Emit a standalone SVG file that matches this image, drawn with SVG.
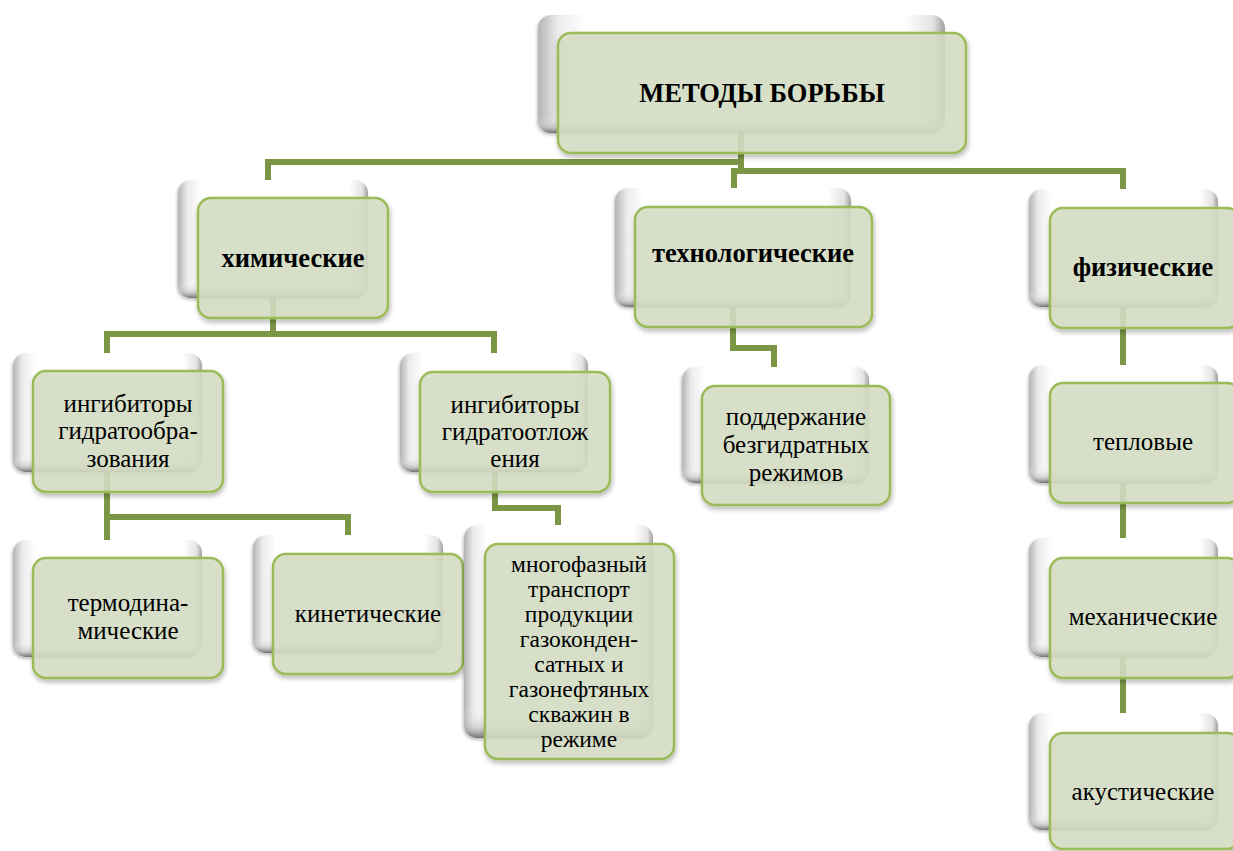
<svg xmlns="http://www.w3.org/2000/svg" width="1233" height="851" viewBox="0 0 1233 851">
<defs>
<linearGradient id="bh" x1="0" x2="1" y1="0" y2="0">
<stop offset="0" stop-color="#b4b4b4"/>
<stop offset="0.05" stop-color="#ececec"/>
<stop offset="0.12" stop-color="#ffffff"/>
<stop offset="0.9" stop-color="#ffffff"/>
<stop offset="0.97" stop-color="#e4e4e4"/>
<stop offset="1" stop-color="#a0a0a0"/>
</linearGradient>
<linearGradient id="bv" x1="0" x2="0" y1="0" y2="1">
<stop offset="0" stop-color="#ffffff" stop-opacity="0"/>
<stop offset="0.86" stop-color="#ffffff" stop-opacity="0"/>
<stop offset="0.95" stop-color="#b0b0b0" stop-opacity="0.45"/>
<stop offset="1" stop-color="#5a5a5a" stop-opacity="0.85"/>
</linearGradient>
<filter id="sh" x="-10%" y="-10%" width="125%" height="130%">
<feDropShadow dx="1" dy="3" stdDeviation="2.5" flood-color="#000" flood-opacity="0.3"/>
</filter>
<filter id="shb" x="-10%" y="-10%" width="125%" height="130%">
<feDropShadow dx="-1" dy="2" stdDeviation="1.5" flood-color="#000" flood-opacity="0.25"/>
</filter>
</defs>
<style>
.back{fill:url(#bh);filter:url(#shb)}
.bov{fill:url(#bv)}
.front{fill:#d6e0c6;fill-opacity:0.86;stroke:#9bbb59;stroke-width:2.5;filter:url(#sh)}
.conn{fill:none;stroke:#7b9745;stroke-width:6;stroke-linejoin:miter}
text{font-family:"Liberation Serif","Times New Roman",serif;fill:#000;text-anchor:middle}
.h{font-weight:bold;font-size:26.5px}
.t{font-size:25px}
.s{font-size:23.5px}
</style>
<rect width="1233" height="851" fill="#ffffff"/>
<g id="connectors">
<path class="conn" d="M741,133 V171"/>
<path class="conn" d="M741,162 H268 V183"/>
<path class="conn" d="M734,190 V171 H1123 V192"/>
<path class="conn" d="M273,298 V334 H107 V356"/>
<path class="conn" d="M273,334 H494 V356"/>
<path class="conn" d="M107,472 V542"/>
<path class="conn" d="M107,517 H348 V538"/>
<path class="conn" d="M495,472 V508 H558 V528"/>
<path class="conn" d="M733,307 V348 H774 V370"/>
<path class="conn" d="M1123,307 V368"/>
<path class="conn" d="M1123,483 V541"/>
<path class="conn" d="M1123,657 V716"/>
</g>
<g id="node-top">
<rect class="back" x="538" y="15" width="407" height="118" rx="13"/>
<rect class="bov" x="538" y="15" width="407" height="118" rx="13"/>
<rect class="front" x="558" y="33" width="408" height="120" rx="13"/>
<text class="h" x="762" y="102">МЕТОДЫ БОРЬБЫ</text>
</g>
<g id="node-chem">
<rect class="back" x="178" y="180" width="190" height="118" rx="13"/>
<rect class="bov" x="178" y="180" width="190" height="118" rx="13"/>
<rect class="front" x="198" y="198" width="190" height="120" rx="13"/>
<text class="h" x="293" y="267">химические</text>
</g>
<g id="node-tech">
<rect class="back" x="615" y="188" width="236" height="119" rx="13"/>
<rect class="bov" x="615" y="188" width="236" height="119" rx="13"/>
<rect class="front" x="635" y="207" width="237" height="120" rx="13"/>
<text class="h" x="753" y="262">технологические</text>
</g>
<g id="node-phys">
<rect class="back" x="1029" y="189" width="189" height="118" rx="13"/>
<rect class="bov" x="1029" y="189" width="189" height="118" rx="13"/>
<rect class="front" x="1050" y="208" width="190" height="120" rx="13"/>
<text class="h" x="1143" y="276">физические</text>
</g>
<g id="node-inh1">
<rect class="back" x="13" y="353" width="189" height="119" rx="13"/>
<rect class="bov" x="13" y="353" width="189" height="119" rx="13"/>
<rect class="front" x="33" y="371" width="190" height="121" rx="13"/>
<text class="t" x="128" y="412">ингибиторы</text>
<text class="t" x="128" y="439">гидратообра-</text>
<text class="t" x="128" y="467">зования</text>
</g>
<g id="node-inh2">
<rect class="back" x="400" y="353" width="188" height="119" rx="13"/>
<rect class="bov" x="400" y="353" width="188" height="119" rx="13"/>
<rect class="front" x="420" y="372" width="190" height="120" rx="13"/>
<text class="t" x="515" y="413">ингибиторы</text>
<text class="t" x="515" y="440">гидратоотлож</text>
<text class="t" x="515" y="467">ения</text>
</g>
<g id="node-support">
<rect class="back" x="682" y="367" width="187" height="116" rx="13"/>
<rect class="bov" x="682" y="367" width="187" height="116" rx="13"/>
<rect class="front" x="702" y="386" width="188" height="119" rx="13"/>
<text class="t" x="796" y="425">поддержание</text>
<text class="t" x="796" y="453">безгидратных</text>
<text class="t" x="796" y="481">режимов</text>
</g>
<g id="node-thermal">
<rect class="back" x="1029" y="365" width="189" height="118" rx="13"/>
<rect class="bov" x="1029" y="365" width="189" height="118" rx="13"/>
<rect class="front" x="1050" y="383" width="190" height="120" rx="13"/>
<text class="t" x="1143" y="450">тепловые</text>
</g>
<g id="node-thermo">
<rect class="back" x="13" y="540" width="189" height="117" rx="13"/>
<rect class="bov" x="13" y="540" width="189" height="117" rx="13"/>
<rect class="front" x="33" y="558" width="190" height="120" rx="13"/>
<text class="t" x="128" y="611">термодина-</text>
<text class="t" x="128" y="639">мические</text>
</g>
<g id="node-kinetic">
<rect class="back" x="253" y="535" width="190" height="118" rx="13"/>
<rect class="bov" x="253" y="535" width="190" height="118" rx="13"/>
<rect class="front" x="273" y="554" width="190" height="120" rx="13"/>
<text class="t" x="368" y="622">кинетические</text>
</g>
<g id="node-multi">
<rect class="back" x="464" y="525" width="189" height="213" rx="13"/>
<rect class="bov" x="464" y="525" width="189" height="213" rx="13"/>
<rect class="front" x="485" y="544" width="189" height="215" rx="13"/>
<text class="s" x="579" y="572">многофазный</text>
<text class="s" x="579" y="597">транспорт</text>
<text class="s" x="579" y="622">продукции</text>
<text class="s" x="579" y="647">газоконден-</text>
<text class="s" x="579" y="672">сатных и</text>
<text class="s" x="579" y="697">газонефтяных</text>
<text class="s" x="579" y="722">скважин в</text>
<text class="s" x="579" y="747">режиме</text>
</g>
<g id="node-mech">
<rect class="back" x="1029" y="538" width="189" height="119" rx="13"/>
<rect class="bov" x="1029" y="538" width="189" height="119" rx="13"/>
<rect class="front" x="1050" y="558" width="190" height="120" rx="13"/>
<text class="t" x="1143" y="625">механические</text>
</g>
<g id="node-acoustic">
<rect class="back" x="1029" y="713" width="189" height="117" rx="13"/>
<rect class="bov" x="1029" y="713" width="189" height="117" rx="13"/>
<rect class="front" x="1050" y="733" width="190" height="116" rx="13"/>
<text class="t" x="1143" y="800">акустические</text>
</g>
</svg>
